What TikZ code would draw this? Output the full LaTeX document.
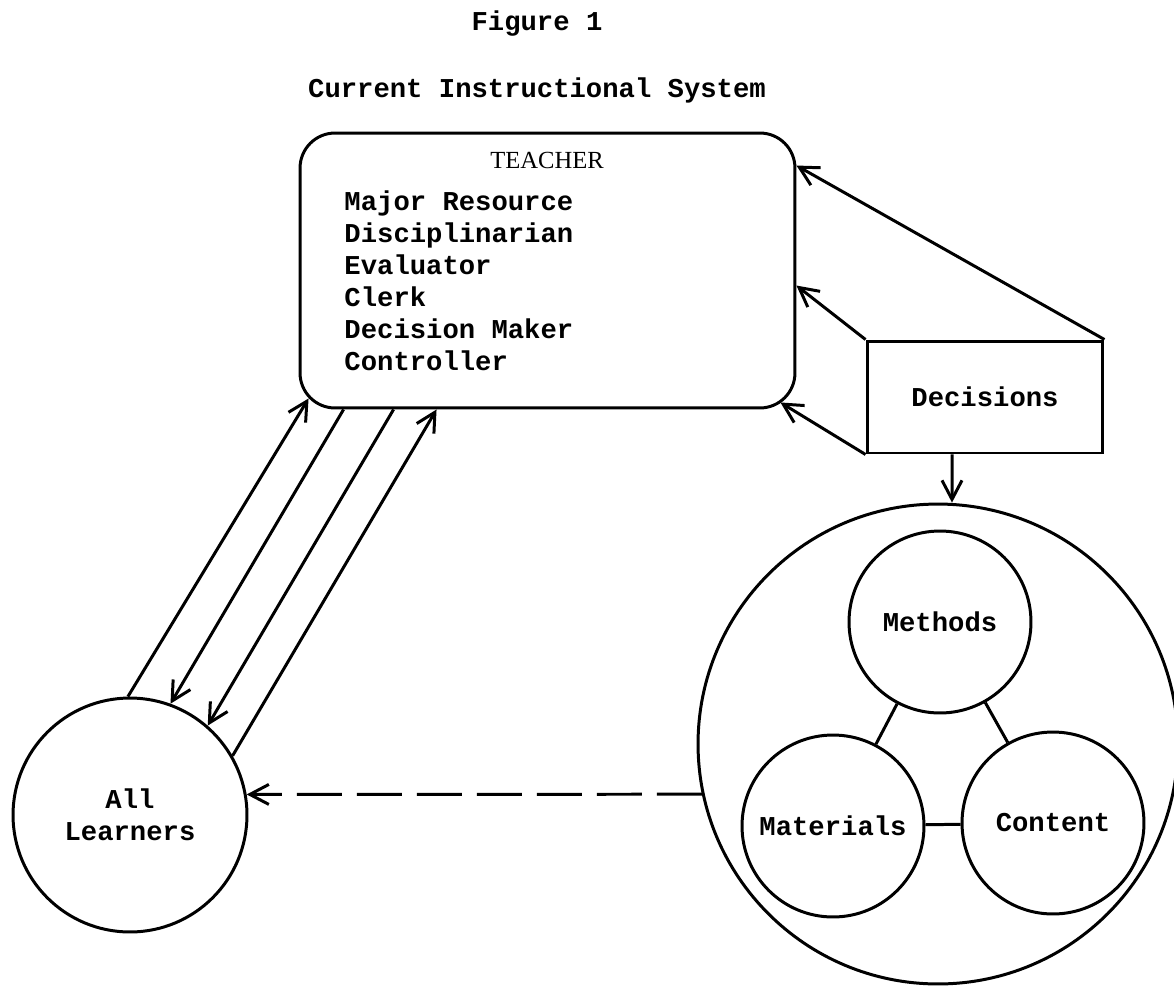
\documentclass[tikz,border=0pt]{standalone}
\usepackage{fontspec}
\setmonofont{Liberation Mono}
\newfontfamily\capsfont{Liberation Serif}
\usetikzlibrary{arrows.meta,positioning,calc}

\begin{document}
\begin{tikzpicture}[x=0.02cm,y=-0.02cm,line width=1.7pt,
  txt/.style={font=\fontsize{15.5}{18.2}\selectfont\ttfamily\bfseries},
  tbox/.style={draw,rounded corners=0.7cm,minimum width=9.9cm,minimum height=5.5cm},
  dbox/.style={draw,minimum width=4.72cm,minimum height=2.24cm,txt},
  ring/.style={draw,circle,minimum size=#1,inner sep=0pt,txt,align=center},
  arr/.style={-{Straight Barb[length=3.8mm,width=4mm]}}
]
  \useasboundingbox (0,0) rectangle (1174,985);
  \node[txt] (fig) at (537,24) {Figure 1};
  \node[txt] (title) at (537,90) {Current Instructional System};
  \node[tbox] (teacher) at (547.5,270.5) {};
  \node[font=\capsfont\fontsize{14}{16}\selectfont] (tlabel) at (547,160) {TEACHER};
  \node[txt,align=left,anchor=north west,inner sep=0pt] (roles) at (343,189)
    {Major Resource\\Disciplinarian\\Evaluator\\Clerk\\Decision Maker\\Controller};
  \node[dbox] (decisions) at (985,397) {Decisions};
  \node[ring=4.68cm] (learners) at (130,815) {All\\Learners};
  \node[ring=9.6cm] (system) at (938,744) {};
  \node[ring=3.64cm] (methods) at (940,622) {Methods};
  \node[ring=3.64cm] (materials) at (833,826) {Materials};
  \node[ring=3.64cm] (content) at (1053,823) {Content};
  % ends on the teacher box
  \coordinate (t1) at ($(teacher.south west)+(10,-11)$);
  \coordinate (t2) at ($(teacher.south west)+(45,0)$);
  \coordinate (t3) at ($(teacher.south west)+(95,0)$);
  \coordinate (t4) at ($(teacher.south west)+(138,0)$);
  \coordinate (d1) at ($(teacher.north east)+(0,34)$);
  \coordinate (d2) at ($(teacher.north east)+(0,154)$);
  \coordinate (d3) at ($(teacher.south east)+(-16,-7)$);
  % Arrows
  \foreach \a/\b in {learners.91/t1, t2/learners.70, t3/learners.49, learners.30/t4,
    decisions.north east/d1, decisions.north west/d2, decisions.south west/d3} {
    \draw[arr] (\a) -- (\b);
  }
  \draw[arr] ([xshift=-0.66cm]decisions.south) -- ([xshift=0.28cm]system.north);
  \draw[arr,dash pattern=on 0.9cm off 0.3cm] (system.192) -- (learners.10);
  \foreach \a/\b in {methods/materials, methods/content, materials/content} {
    \draw (\a) -- (\b);
  }
\end{tikzpicture}
\end{document}
